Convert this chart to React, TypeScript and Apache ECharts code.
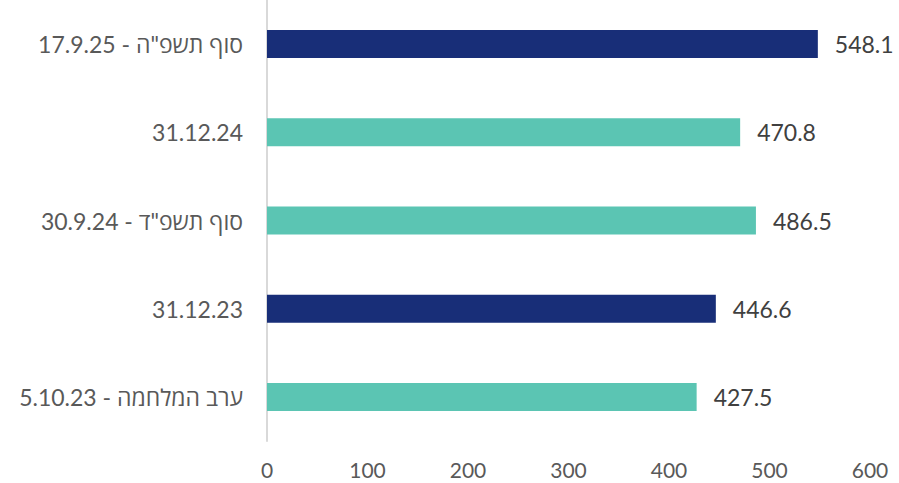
import React, { useEffect, useRef } from "react";
import * as echarts from "echarts";

const categories = [
  "5.10.23 - ערב המלחמה",
  "31.12.23",
  "30.9.24 - סוף תשפ\"ד",
  "31.12.24",
  "17.9.25 - סוף תשפ\"ה",
];
const values = [427.5, 446.6, 486.5, 470.8, 548.1];
const barColors = ["#5BC5B3", "#182E78", "#5BC5B3", "#5BC5B3", "#182E78"];
const xTicks = { min: 0, max: 600, interval: 100 };

const FONT = "Lato, 'Open Sans', 'DejaVu Sans', sans-serif";

export default function App() {
  const ref = useRef<HTMLDivElement>(null);
  useEffect(() => {
    const chart = echarts.init(ref.current!, null, { renderer: "svg" });
    chart.setOption({
      animation: false,
      backgroundColor: "#ffffff",
      grid: { left: 267, right: 29, top: 0, bottom: 42 },
      xAxis: {
        type: "value",
        min: xTicks.min,
        max: xTicks.max,
        interval: xTicks.interval,
        splitLine: { show: false },
        axisLine: { show: false },
        axisTick: { show: false },
        axisLabel: { color: "#595959", fontSize: 21, fontFamily: FONT, margin: 18 },
      },
      yAxis: {
        type: "category",
        data: categories,
        axisLine: { show: true, lineStyle: { color: "#D9D9D9", width: 2 } },
        axisTick: { show: false },
        axisLabel: { color: "#595959", fontSize: 23, fontFamily: FONT, margin: 24 },
      },
      series: [
        {
          type: "bar",
          barWidth: 28,
          data: values.map((v, i) => ({ value: v, itemStyle: { color: barColors[i] } })),
          label: {
            show: true,
            position: "right",
            distance: 17,
            color: "#404040",
            fontSize: 23,
            fontFamily: FONT,
            formatter: (p: any) => Number(p.value).toFixed(1),
          },
        },
      ],
    });
    return () => chart.dispose();
  }, []);
  return <div ref={ref} style={{ width: 899, height: 483, position: "absolute", left: 0, top: 0 }} />;
}
